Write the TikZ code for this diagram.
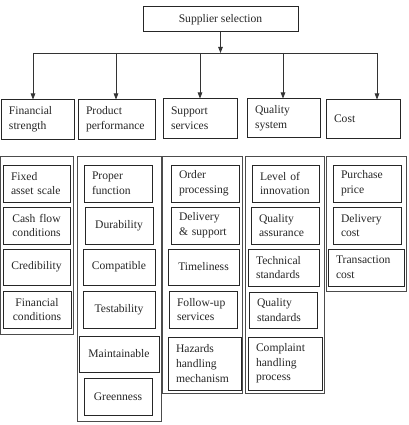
\documentclass[tikz,border=0pt]{standalone}
\usepackage{fontspec}
\setmainfont{Liberation Serif}
\usetikzlibrary{arrows.meta}
\newcommand\bxn[8]{%
  \pgfmathsetmacro\bxtw{#4-16}%
  \node[#8, minimum width=#4pt, minimum height=#5pt, text width=\bxtw pt, align=#7] (#1) at (#2,#3) {#6};}
\begin{document}
\begin{tikzpicture}[x=1pt,y=-1pt,
  bx/.style={draw=black!85, line width=1pt, inner xsep=8pt, inner ysep=0pt,
    font=\fontsize{11.6}{14.6}\selectfont, text=black!85},
  cont/.style={draw=black!70, line width=0.8pt, inner sep=0pt},
  conn/.style={draw=black!80, line width=0.8pt},
  arr/.style={conn, -{Triangle[length=6pt,width=4.5pt]}}]
\useasboundingbox (0,0) rectangle (408,425);
% top
\node[bx, minimum width=155pt, minimum height=25pt, align=center] (top) at (220.5,19.5) {Supplier selection};
% level 2
\bxn{fs}{37.5}{119.5}{73}{39}{Financial\\strength}{left}{bx}
\bxn{pp}{116.5}{119.5}{77}{39}{Product\\performance}{left}{bx}
\bxn{ss}{200}{118.5}{74}{39}{Support\\services}{left}{bx}
\bxn{qs}{283.5}{118}{73}{38}{Quality\\system}{left}{bx}
\bxn{co}{363}{119}{74}{38}{Cost}{left}{bx}
% connectors
\coordinate (d1) at (33,53);
\coordinate (d2) at (116,53);
\coordinate (d3) at (200,53);
\coordinate (d4) at (283,53);
\coordinate (d5) at (377,53);
\draw[conn] (d1) -- (d5);
\draw[arr] (top.south) -- (top.south |- d1);
\draw[arr] (d1) -- (d1 |- fs.north);
\draw[arr] (d2) -- (d2 |- pp.north);
\draw[arr] (d3) -- (d3 |- ss.north);
\draw[arr] (d4) -- (d4 |- qs.north);
\draw[arr] (d5) -- (d5 |- co.north);
% containers
\node[cont, minimum width=73pt, minimum height=178pt] (cf) at (37.3,245) {};
\node[cont, minimum width=84pt, minimum height=265pt] (cp) at (119,288.5) {};
\node[cont, minimum width=80pt, minimum height=237pt] (cs) at (202,274.5) {};
\node[cont, minimum width=79pt, minimum height=237pt] (cq) at (284.5,274.5) {};
\node[cont, minimum width=80pt, minimum height=135pt] (cc) at (366.5,223.5) {};
% financial
\bxn{f1}{36.5}{183.5}{67}{37}{Fixed\\asset scale}{left}{bx}
\bxn{f2}{36.5}{225.5}{67}{37}{Cash flow\\conditions}{center}{bx}
\bxn{f3}{36.5}{267}{67}{36}{Credibility}{center}{bx}
\bxn{f4}{37}{309.5}{68}{37}{Financial\\conditions}{center}{bx}
% product
\bxn{p1}{118}{183.5}{68}{37}{Proper\\function}{left}{bx}
\bxn{p2}{119}{225.5}{68}{37}{Durability}{center}{bx}
\bxn{p3}{119}{267}{72}{36}{Compatible}{center}{bx}
\bxn{p4}{119}{309.5}{72}{37}{Testability}{center}{bx}
\bxn{p5}{119}{354}{80}{36}{Maintainable}{center}{bx}
\bxn{p6}{118}{396.5}{68}{37}{Greenness}{center}{bx}
% support
\bxn{s1}{205}{183.5}{68}{37}{Order\\processing}{left}{bx}
\bxn{s2}{205}{225.5}{68}{37}{Delivery\\\& support}{left}{bx}
\bxn{s3}{203.5}{267}{71}{36}{Timeliness}{center}{bx}
\bxn{s4}{203}{309.5}{68}{37}{Follow-up\\services}{left}{bx}
\bxn{s5}{204.5}{363.5}{73}{53}{Hazards\\handling\\mechanism}{left}{bx}
% quality
\bxn{q1}{285.5}{183.5}{67}{37}{Level of\\innovation}{left}{bx}
\bxn{q2}{285}{225.5}{68}{37}{Quality\\assurance}{left}{bx}
\bxn{q3}{283.5}{267.5}{71}{37}{Technical\\standards}{left}{bx}
\bxn{q4}{283}{310}{68}{36}{Quality\\standards}{left}{bx}
\bxn{q5}{285}{363.5}{74}{53}{Complaint\\handling\\process}{left}{bx}
% cost
\bxn{c1}{367}{183.5}{68}{37}{Purchase\\price}{left}{bx}
\bxn{c2}{367}{225.5}{68}{37}{Delivery\\cost}{left}{bx}
\bxn{c3}{366}{267.5}{76}{37}{Transaction\\cost}{left}{bx}
\end{tikzpicture}
\end{document}
